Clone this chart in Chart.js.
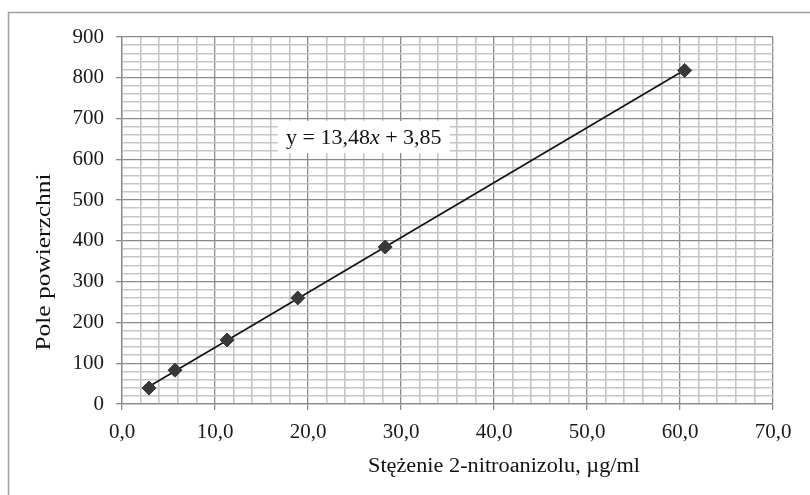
<!DOCTYPE html>
<html>
<head>
<meta charset="utf-8">
<script src="https://cdn.jsdelivr.net/npm/chart.js@4"></script>
<style>
  html, body { margin: 0; padding: 0; background: #fff; }
  canvas { display: block; }
</style>
</head>
<body>
<canvas id="wykres" width="810" height="495"></canvas>
<script>
// dane kalibracji
const stezenia = [2.9, 5.7, 11.3, 18.9, 28.3, 60.5];
const pola = [39, 83, 157, 260, 385, 818];

// linia trendu (punkty końcowe)
const trendX = [2.9, 60.5];
const trendY = [43, 819];

const rownanie = ["y = 13,48", "x", " + 3,85"];
const tytulX = "Stężenie 2-nitroanizolu, µg/ml";
const tytulY = "Pole powierzchni";

const FONT = "'Liberation Serif', 'DejaVu Serif', serif";
const MAJOR = "#8a8a8a";
const MINOR = "#c6c6c6";

// tekst rozciągnięty do zadanej długości
function tekstNaDlugosc(c, txt, cx, cy, dlugosc, kat) {
  const w = c.measureText(txt).width;
  c.save();
  c.translate(cx, cy);
  c.rotate(kat);
  c.scale(dlugosc / w, 1);
  c.textAlign = "center";
  c.textBaseline = "middle";
  c.fillText(txt, 0, 0);
  c.restore();
}

// ======================
// PLUGIN - ramka, tytuły, równanie
// ======================
const dodatki = {
  id: "dodatki",
  beforeDraw(chart) {
    const c = chart.ctx;
    c.save();
    c.fillStyle = "#fff";
    c.fillRect(0, 0, chart.width, chart.height);
    c.strokeStyle = "#a0a0a0";
    c.lineWidth = 1.5;
    c.strokeRect(8.5, 12.5, 900, 600);
    c.restore();
  },
  afterDatasetsDraw(chart) {
    const c = chart.ctx;
    const sx = chart.scales.x, sy = chart.scales.y;
    c.save();
    // równanie
    const cx = sx.getPixelForValue(26);
    const cy = sy.getPixelForValue(655);
    c.fillStyle = "#fff";
    c.fillRect(cx - 86, cy - 16, 172, 32);
    c.textBaseline = "middle";
    c.fillStyle = "#111";
    const fn = "22px " + FONT, fi = "italic 22px " + FONT;
    c.font = fn;
    let w0 = c.measureText(rownanie[0]).width;
    c.font = fi;
    let w1 = c.measureText(rownanie[1]).width;
    c.font = fn;
    let w2 = c.measureText(rownanie[2]).width;
    let x = cx - (w0 + w1 + w2) / 2;
    c.fillText(rownanie[0], x, cy + 1);
    c.font = fi;
    c.fillText(rownanie[1], x + w0, cy + 1);
    c.font = fn;
    c.fillText(rownanie[2], x + w0 + w1, cy + 1);

    // tytuły osi
    c.font = "20px " + FONT;
    tekstNaDlugosc(c, tytulX, 504, 467, 272, 0);
    c.font = "21px " + FONT;
    tekstNaDlugosc(c, tytulY, 44, 262, 177, -Math.PI / 2);
    c.restore();
  }
};

function przecinek(v) {
  return v.toFixed(1).replace(".", ",");
}

new Chart(document.getElementById("wykres"), {
  type: "scatter",
  data: {
    datasets: [
      {
        label: "pomiary",
        data: stezenia.map((s, i) => ({ x: s, y: pola[i] })),
        pointStyle: "rectRot",
        pointRadius: 7,
        backgroundColor: "#383838",
        borderColor: "#383838",
        order: 0
      },
      {
        label: "trend",
        data: trendX.map((s, i) => ({ x: s, y: trendY[i] })),
        showLine: true,
        pointRadius: 0,
        borderColor: "#111",
        borderWidth: 1.6,
        order: 1
      }
    ]
  },
  options: {
    responsive: false,
    animation: false,
    layout: { padding: { top: 37, right: 37, left: 0, bottom: 0 } },
    plugins: {
      legend: { display: false },
      tooltip: { enabled: false }
    },
    scales: {
      x: {
        type: "linear",
        min: 0,
        max: 70,
        afterFit(s) { s.height = 91; },
        ticks: {
          stepSize: 2,
          autoSkip: false,
          maxRotation: 0,
          padding: 10,
          color: "#1a1a1a",
          font: { family: FONT, size: 21 },
          callback: v => (Math.round(v) % 10 === 0 ? przecinek(v) : "")
        },
        grid: {
          color: c => (Math.round(c.tick.value) % 10 === 0 ? MAJOR : MINOR),
          lineWidth: c => (Math.round(c.tick.value) % 10 === 0 ? 1.3 : 1.6),
          tickColor: c => (Math.round(c.tick.value) % 10 === 0 ? MAJOR : "rgba(0,0,0,0)"),
          tickLength: 6
        },
        border: { color: MAJOR, width: 1.3 }
      },
      y: {
        min: 0,
        max: 900,
        afterFit(s) { s.width = 122; },
        ticks: {
          stepSize: 20,
          autoSkip: false,
          padding: 12,
          color: "#1a1a1a",
          font: { family: FONT, size: 21 },
          callback: v => (Math.round(v) % 100 === 0 ? String(v) : "")
        },
        grid: {
          color: c => (Math.round(c.tick.value) % 100 === 0 ? MAJOR : MINOR),
          lineWidth: c => (Math.round(c.tick.value) % 100 === 0 ? 1.3 : 1.6),
          tickColor: c => (Math.round(c.tick.value) % 100 === 0 ? MAJOR : "rgba(0,0,0,0)"),
          tickLength: 6
        },
        border: { color: MAJOR, width: 1.3 }
      }
    }
  },
  plugins: [dodatki]
});
</script>
</body>
</html>
